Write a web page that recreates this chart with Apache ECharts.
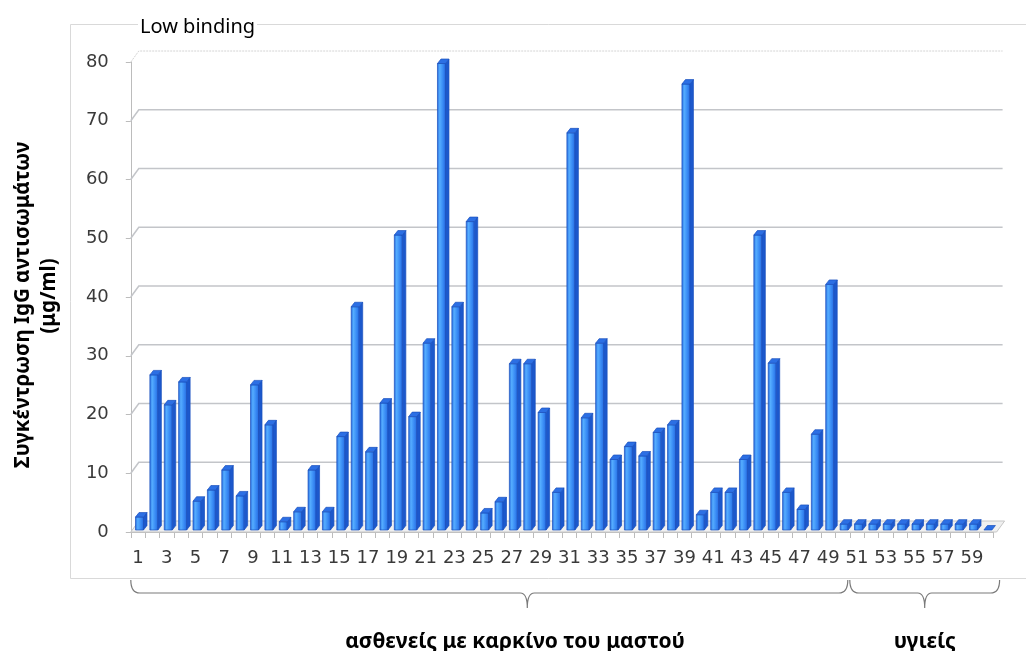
<!DOCTYPE html>
<html>
<head>
<meta charset="utf-8">
<script src="https://cdn.jsdelivr.net/npm/echarts@6/dist/echarts.min.js"></script>
<style>
  html, body { margin: 0; padding: 0; background: #ffffff; }
  #chart { width: 1026px; height: 651px; }
</style>
</head>
<body>
<div id="chart"></div>
<script>
// Patient / control sample numbers along the x axis
const sampleIds = ['1','2','3','4','5','6','7','8','9','10',
  '11','12','13','14','15','16','17','18','19','20',
  '21','22','23','24','25','26','27','28','29','30',
  '31','32','33','34','35','36','37','38','39','40',
  '41','42','43','44','45','46','47','48','49','50',
  '51','52','53','54','55','56','57','58','59','60'];

// IgG antibody concentration (μg/ml), low binding
const iggConc = [2.2, 26.4, 21.3, 25.2, 4.9, 6.8, 10.2, 5.8, 24.7, 17.9,
  1.4, 3.1, 10.2, 3.1, 15.9, 38.0, 13.3, 21.6, 50.2, 19.3,
  31.8, 79.4, 38.0, 52.5, 2.9, 4.8, 28.3, 28.3, 20.0, 6.4,
  67.6, 19.1, 31.8, 12.0, 14.2, 12.6, 16.6, 17.9, 75.9, 2.6,
  6.4, 6.4, 12.0, 50.2, 28.4, 6.4, 3.5, 16.3, 41.8, 1.0,
  1.0, 1.0, 1.0, 1.0, 1.0, 1.0, 1.0, 1.0, 1.0, 0];

// Value axis ticks
const yTicks = [0, 10, 20, 30, 40, 50, 60, 70, 80];

// Sample groups (first / last index into sampleIds)
const groupNames = ['ασθενείς με καρκίνο του μαστού', 'υγιείς'];
const groupFirst = [0, 50];
const groupLast = [49, 59];

const chart = echarts.init(document.getElementById('chart'));

// perspective offset of the back wall
const WALL_DX = 8, WALL_DY = -11;

function renderWall(params, api) {
  const cs = params.coordSys;
  const v = api.value(1);
  const y = api.coord([0, v])[1];
  const x0 = cs.x, x1 = cs.x + cs.width;
  if (v === 0) {
    return {
      type: 'polygon',
      shape: { points: [[x0, y], [x1 + 3, y], [x1 + 3 + WALL_DX, y + WALL_DY], [x0 + WALL_DX, y + WALL_DY]] },
      style: { fill: '#f0f0f0', stroke: '#c6c6c6', lineWidth: 1 }
    };
  }
  const top = v === yTicks[yTicks.length - 1];
  return {
    type: 'polyline',
    shape: { points: [[x0, y], [x0 + WALL_DX, y + WALL_DY], [x1 + WALL_DX + 1, y + WALL_DY]] },
    style: { fill: null, stroke: top ? '#d4d4d4' : '#c3c5c9', lineWidth: top ? 1 : 1.5, lineDash: top ? [2, 1] : null }
  };
}

const frontFill = new echarts.graphic.LinearGradient(0, 0, 1, 0, [
  { offset: 0, color: '#2466dc' },
  { offset: 0.3, color: '#55adff' },
  { offset: 0.65, color: '#3a8cf5' },
  { offset: 1, color: '#2569e0' }
]);

function renderBar(params, api) {
  const i = api.value(0), v = api.value(1);
  const top = api.coord([i, v]);
  const base = api.coord([i, 0]);
  const lift = 2;
  const cx = top[0];
  const x0 = cx - 2.5, x1 = cx + 5.5;
  const yT = top[1] - lift, yB = base[1] - lift;
  const dx = 3.5, dy = -4.5;
  const edge = '#1a50bd';
  const children = [];
  if (yB - yT > 0.5) {
    children.push({
      type: 'rect',
      shape: { x: x0, y: yT, width: x1 - x0, height: yB - yT },
      style: { fill: frontFill, stroke: edge, lineWidth: 0.7 }
    });
    children.push({
      type: 'polygon',
      shape: { points: [[x1, yB], [x1, yT], [x1 + dx, yT + dy], [x1 + dx, yB + dy]] },
      style: { fill: '#1c58cc', stroke: edge, lineWidth: 0.7 }
    });
  }
  children.push({
    type: 'polygon',
    shape: { points: [[x0, yT], [x1, yT], [x1 + dx, yT + dy], [x0 + dx, yT + dy]] },
    style: { fill: '#2c6fe4', stroke: edge, lineWidth: 0.7 }
  });
  return { type: 'group', children };
}

// curly braces under the category axis, one per sample group
const tipFrac = [0.553, 0.5];
const textFrac = [0.536, 0.5];
function renderBrace(params, api) {
  const g = params.dataIndex;
  const cs = params.coordSys;
  const band = api.size([1, 0])[0];
  const first = api.value(0), last = api.value(1);
  let L = api.coord([first, 0])[0] - band / 2;
  let R = api.coord([last, 0])[0] + band / 2;
  if (g < groupNames.length - 1) R -= 2; else R += 6;
  const bottom = cs.y + cs.height;
  const yTop = bottom + 48, yMid = bottom + 61, yTip = bottom + 76;
  const T = L + (R - L) * tipFrac[g];
  const path = 'M' + L + ',' + yTop +
    ' Q' + L + ',' + yMid + ' ' + (L + 9) + ',' + yMid +
    ' L' + (T - 7) + ',' + yMid +
    ' Q' + T + ',' + yMid + ' ' + T + ',' + yTip +
    ' Q' + T + ',' + yMid + ' ' + (T + 7) + ',' + yMid +
    ' L' + (R - 9) + ',' + yMid +
    ' Q' + R + ',' + yMid + ' ' + R + ',' + yTop;
  return {
    type: 'group',
    children: [
      { type: 'path', shape: { pathData: path }, style: { fill: null, stroke: '#7a7a7a', lineWidth: 1.2 } },
      {
        type: 'text',
        x: L + (R - L) * textFrac[g], y: bottom + 110,
        style: {
          text: groupNames[g], fill: '#000000',
          font: 'bold 21px "Noto Sans", sans-serif',
          align: 'center', verticalAlign: 'middle'
        }
      }
    ]
  };
}

const axisFont = { fontFamily: 'DejaVu Sans', fontSize: 18, color: '#3a3a3a' };

chart.setOption({
  animation: false,
  backgroundColor: '#ffffff',
  grid: { left: 130.8, top: 62, width: 862.8, height: 470 },
  xAxis: {
    type: 'category',
    data: sampleIds,
    boundaryGap: true,
    axisLine: { show: true, lineStyle: { color: '#bcbcbc', width: 1 } },
    axisTick: { show: true, interval: 0, length: 6, lineStyle: { color: '#bcbcbc' } },
    axisLabel: Object.assign({ interval: 1, margin: 17 }, axisFont),
    splitLine: { show: false }
  },
  yAxis: {
    type: 'value',
    min: 0, max: 80, interval: 10,
    axisLine: { show: true, lineStyle: { color: '#bcbcbc', width: 1 } },
    axisTick: { show: true, length: 5, lineStyle: { color: '#bcbcbc' } },
    axisLabel: Object.assign({ margin: 22 }, axisFont),
    splitLine: { show: false }
  },
  graphic: [
    {
      type: 'rect', z: -10,
      shape: { x: 70.5, y: 24.5, width: 962, height: 554 },
      style: { fill: null, stroke: '#d9d9d9', lineWidth: 1 }
    },
    {
      type: 'text', x: 138, y: 27, z: 10,
      style: {
        text: 'Low binding', fill: '#000000',
        font: '20px "Noto Sans", sans-serif',
        align: 'left', verticalAlign: 'middle',
        backgroundColor: '#ffffff', padding: [0, 2]
      }
    },
    {
      type: 'text', x: 23, y: 305, rotation: Math.PI / 2,
      style: {
        text: 'Συγκέντρωση IgG αντισωμάτων', fill: '#000000',
        font: 'bold 20.5px "Noto Sans", sans-serif',
        align: 'center', verticalAlign: 'middle'
      }
    },
    {
      type: 'text', x: 49, y: 296, rotation: Math.PI / 2,
      style: {
        text: '(μg/ml)', fill: '#000000',
        font: 'bold 20.5px "Noto Sans", sans-serif',
        align: 'center', verticalAlign: 'middle'
      }
    }
  ],
  series: [
    {
      name: 'wall', type: 'custom', z: 1, silent: true, clip: false,
      renderItem: renderWall,
      encode: { x: 0, y: 1 },
      data: yTicks.map(t => [0, t])
    },
    {
      name: 'IgG', type: 'custom', z: 3, clip: false,
      renderItem: renderBar,
      encode: { x: 0, y: 1 },
      data: iggConc.map((v, i) => [i, v])
    },
    {
      name: 'groups', type: 'custom', z: 2, silent: true, clip: false,
      renderItem: renderBrace,
      encode: { x: 0, y: 1 },
      data: groupFirst.map((f, g) => [f, groupLast[g]])
    }
  ]
});
</script>
</body>
</html>
